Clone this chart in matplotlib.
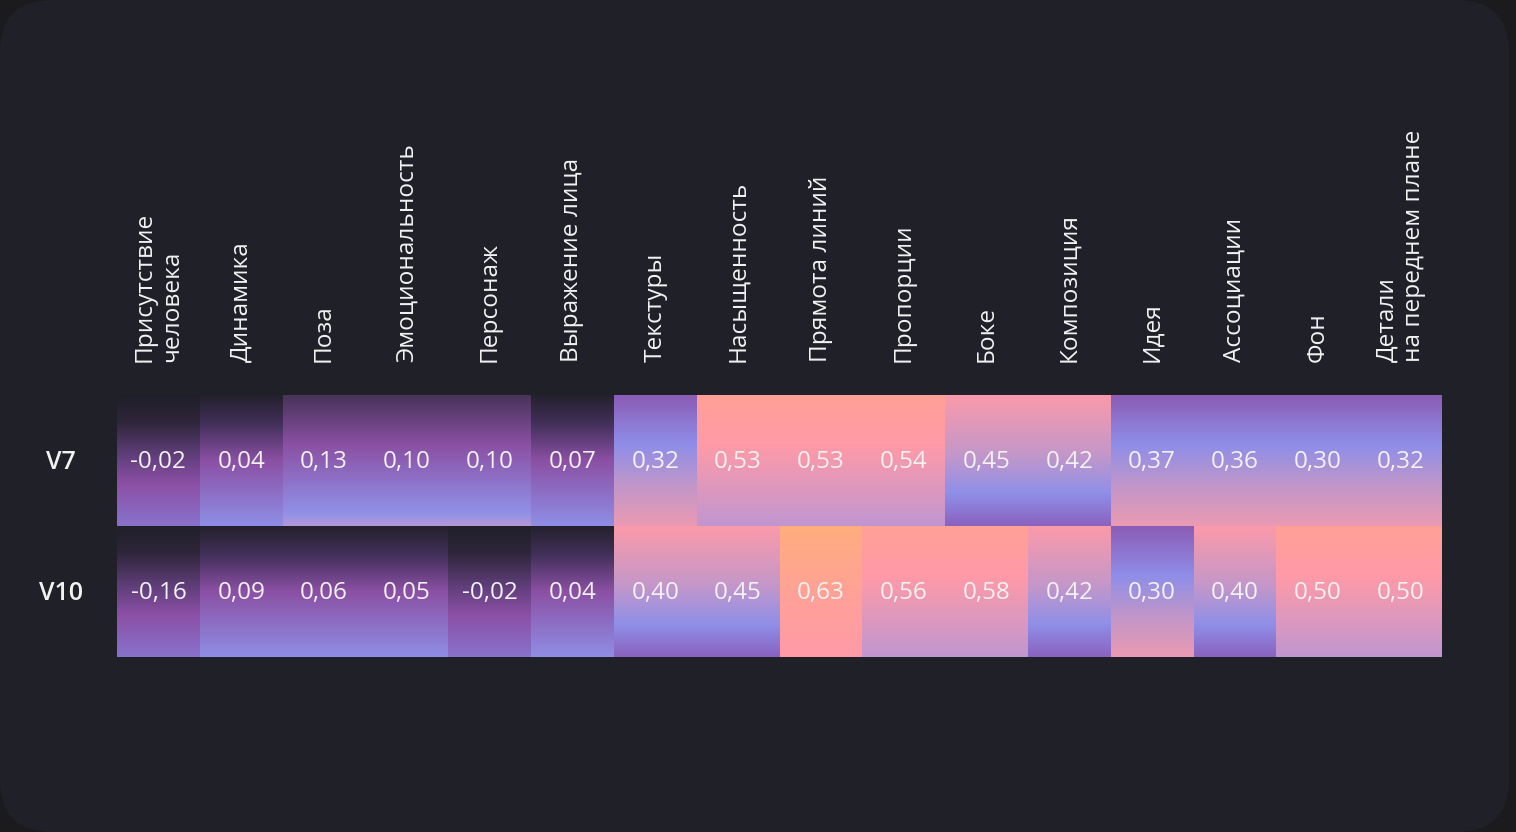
import numpy as np
import matplotlib
matplotlib.use("Agg")
import matplotlib.pyplot as plt
from matplotlib.colors import LinearSegmentedColormap
from matplotlib.patches import FancyBboxPatch

plt.rcParams['font.family'] = ['Open Sans', 'DejaVu Sans']

# ---------------- data ----------------
categories = [
    "Присутствие\nчеловека", "Динамика", "Поза", "Эмоциональность", "Персонаж",
    "Выражение лица", "Текстуры", "Насыщенность", "Прямота линий", "Пропорции",
    "Боке", "Композиция", "Идея", "Ассоциации", "Фон", "Детали\nна переднем плане",
]
rows = ["V7", "V10"]
v7 = [-0.02, 0.04, 0.13, 0.10, 0.10, 0.07, 0.32, 0.53, 0.53, 0.54, 0.45, 0.42, 0.37, 0.36, 0.30, 0.32]
v10 = [-0.16, 0.09, 0.06, 0.05, -0.02, 0.04, 0.40, 0.45, 0.63, 0.56, 0.58, 0.42, 0.30, 0.40, 0.50, 0.50]
values = [v7, v10]

# ---------------- styles ----------------
BG = "#202029"
OUTER = "#1b1b1d"
TXT = "#f2f2f2"

# vertical gradient (top -> bottom) per value band
bands = [
    (-1.0, 0.0, [(0, '#1f1f29'), (0.2, '#2e263a'), (0.48, '#64407f'), (0.68, '#8c50a6'), (1, '#8872cc')]),
    (0.0, 0.10, [(0, '#24212d'), (0.22, '#42305a'), (0.5, '#8b50a5'), (1, '#8f8ee6')]),
    (0.10, 0.20, [(0, '#483459'), (0.38, '#8b50a4'), (0.9, '#9090e8'), (1, '#b497d6')]),
    (0.20, 0.40, [(0, '#8b5cb6'), (0.38, '#8f8ee8'), (0.7, '#c296c8'), (1, '#eb9ab2')]),
    (0.40, 0.50, [(0, '#fb9aaa'), (0.45, '#c497c9'), (0.75, '#8f8fe8'), (1, '#8a62bf')]),
    (0.50, 0.60, [(0, '#ffa096'), (0.38, '#ff9aa8'), (1, '#c096d0')]),
    (0.60, 1.01, [(0, '#ffad7e'), (0.55, '#ffa198'), (1, '#ff9aa8')]),
]
cmaps = [(lo, hi, LinearSegmentedColormap.from_list(f"b{k}", stops))
         for k, (lo, hi, stops) in enumerate(bands)]


def band_cmap(v):
    for lo, hi, cm in cmaps:
        if lo <= v < hi:
            return cm
    return cmaps[-1][2]


W, H = 1516, 832
fig = plt.figure(figsize=(W / 100, H / 100), dpi=100)
fig.patch.set_facecolor(OUTER)
panel = FancyBboxPatch((0, 0), 1509 / W, 1.0, boxstyle="round,pad=0,rounding_size=0.035",
                       transform=fig.transFigure, facecolor=BG, edgecolor='none',
                       mutation_aspect=W / H, zorder=-5)
fig.patches.append(panel)

ax = fig.add_axes([117 / W, 1 - 657 / H, (1442 - 117) / W, (657 - 395) / H])
ax.set_zorder(2)
ax.patch.set_alpha(0)

grad = np.linspace(0, 1, 256).reshape(-1, 1)
for i, rowvals in enumerate(values):
    for j, v in enumerate(rowvals):
        cm = band_cmap(v)
        ax.imshow(cm(grad), extent=(j, j + 1, i + 1, i), aspect='auto',
                  interpolation='bilinear', zorder=1)
        ax.text(j + 0.5, i + 0.515, f"{v:.2f}".replace('.', ','), ha='center', va='center',
                color=TXT, fontsize=17.5, zorder=3)

ax.set_xlim(0, len(categories))
ax.set_ylim(len(rows), 0)
for s in ax.spines.values():
    s.set_visible(False)
ax.set_xticks([])
ax.set_yticks([])

# row labels
for i, r in enumerate(rows):
    ax.text(-0.68, i + 0.515, r, ha='center', va='center', color=TXT,
            fontsize=18, fontweight='semibold')

# column labels
for j, c in enumerate(categories):
    ax.text(j + 0.5, -0.25, c, rotation=90, ha='center', va='bottom',
            multialignment='left', color=TXT, fontsize=17.6, linespacing=1.15,
            fontweight='medium')

fig.savefig("out.png", dpi=100, facecolor=fig.get_facecolor())
